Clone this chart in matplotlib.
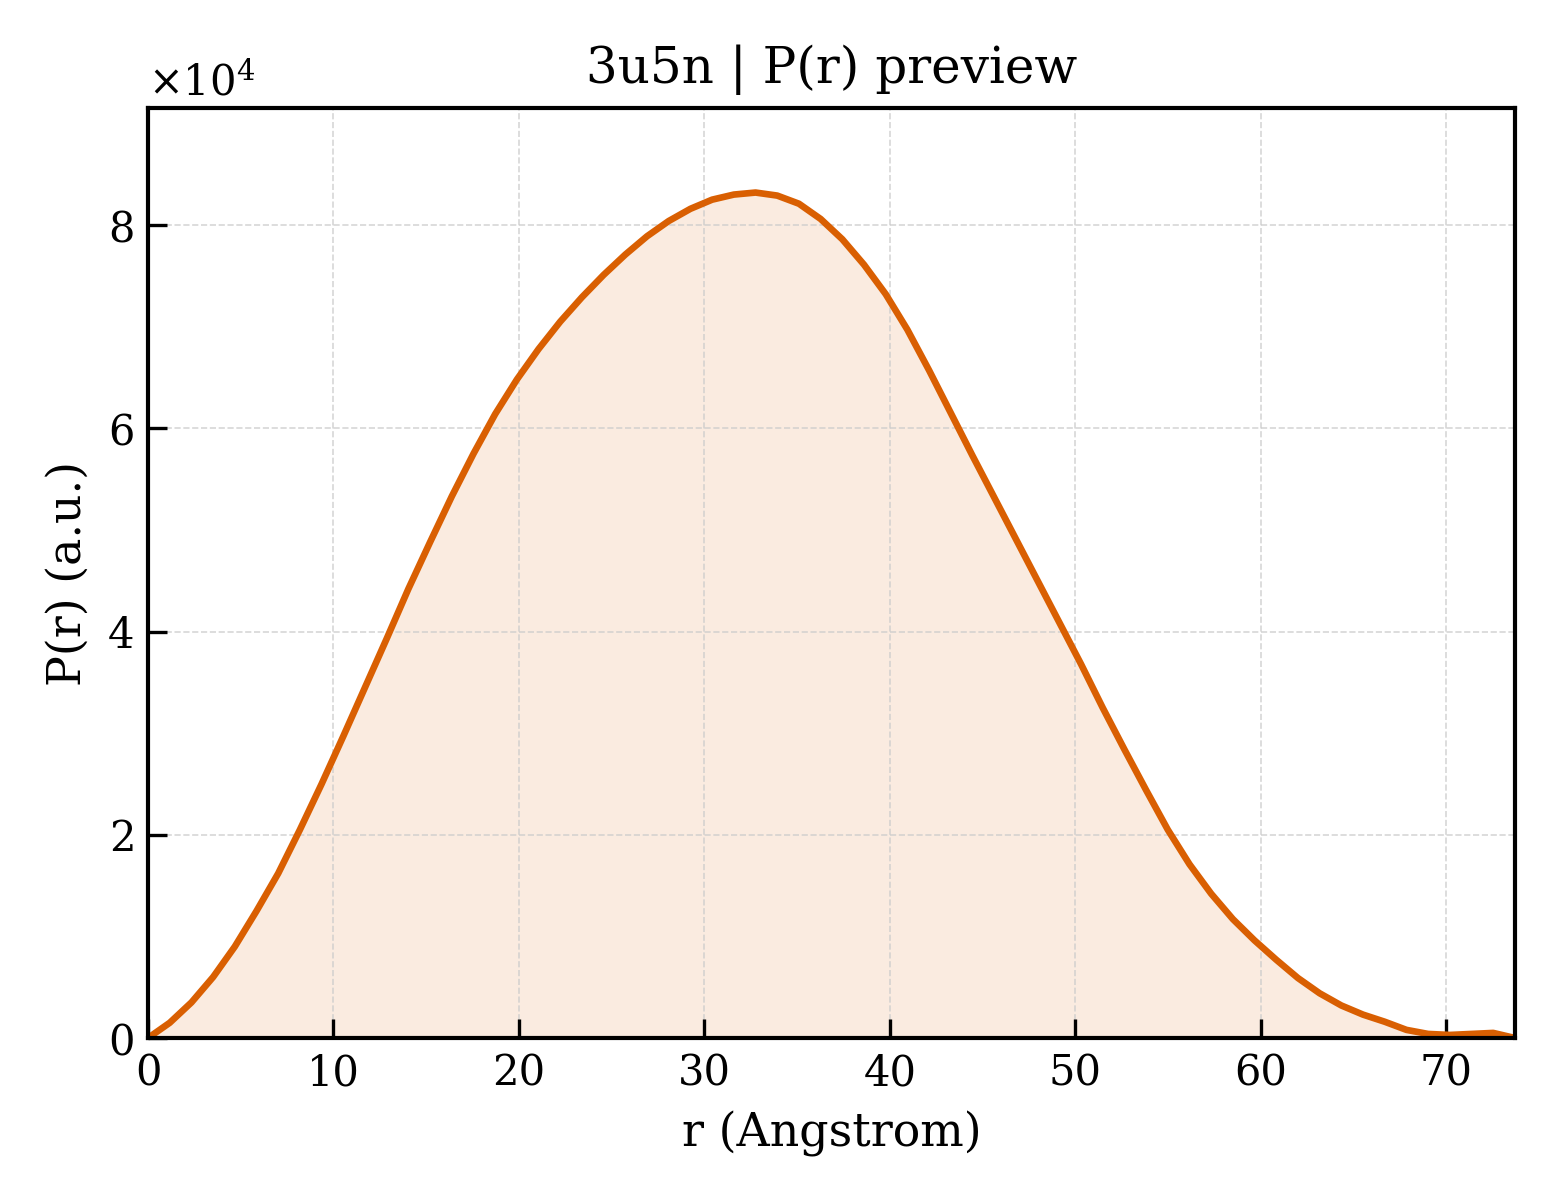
import numpy as np
import matplotlib.pyplot as plt
from matplotlib.ticker import ScalarFormatter

# P(r) curve (64 samples, r in Angstrom)
R_MAX = 73.71
N_POINTS = 64
pr_values = [
    0.00, 0.15, 0.35, 0.60, 0.90, 1.25, 1.62, 2.05, 2.50, 2.97,
    3.45, 3.93, 4.42, 4.88, 5.33, 5.75, 6.14, 6.48, 6.78, 7.05,
    7.29, 7.51, 7.71, 7.89, 8.04, 8.16, 8.25, 8.30, 8.32, 8.29,
    8.21, 8.06, 7.86, 7.61, 7.32, 6.97, 6.57, 6.15, 5.73, 5.32,
    4.91, 4.50, 4.09, 3.68, 3.25, 2.84, 2.44, 2.05, 1.71, 1.42,
    1.17, 0.96, 0.77, 0.59, 0.44, 0.32, 0.23, 0.16, 0.08, 0.04,
    0.03, 0.04, 0.05, 0.00,
]  # units of 1e4

r = np.linspace(0, R_MAX, N_POINTS)
pr = np.array(pr_values) * 1e4

plt.rcParams['font.family'] = 'DejaVu Serif'
plt.rcParams['mathtext.fontset'] = 'dejavuserif'

fig = plt.figure(figsize=(5.2, 4), dpi=300)
ax = fig.add_axes([0.0949, 0.135, 0.8762, 0.775])

color = '#d95f02'
ax.fill_between(r, pr, 0, color=color, alpha=0.12, linewidth=0)
ax.plot(r, pr, color=color, linewidth=1.6)

ax.set_xlim(0, R_MAX)
ax.set_ylim(0, pr.max() * 1.1)

ax.set_title("3u5n | P(r) preview", fontsize=12)
ax.set_xlabel("r (Angstrom)", fontsize=11)
ax.set_ylabel("P(r) (a.u.)", fontsize=11)

fmt = ScalarFormatter(useMathText=True)
fmt.set_powerlimits((0, 0))
ax.yaxis.set_major_formatter(fmt)
ax.yaxis.get_offset_text().set_fontsize(10)

ax.tick_params(direction='in', length=4.5, width=0.8, labelsize=10)
ax.grid(True, linestyle='--', linewidth=0.4, color='#cccccc', alpha=0.8)
for s in ax.spines.values():
    s.set_linewidth(1.0)

fig.savefig("out.png", dpi=300)
